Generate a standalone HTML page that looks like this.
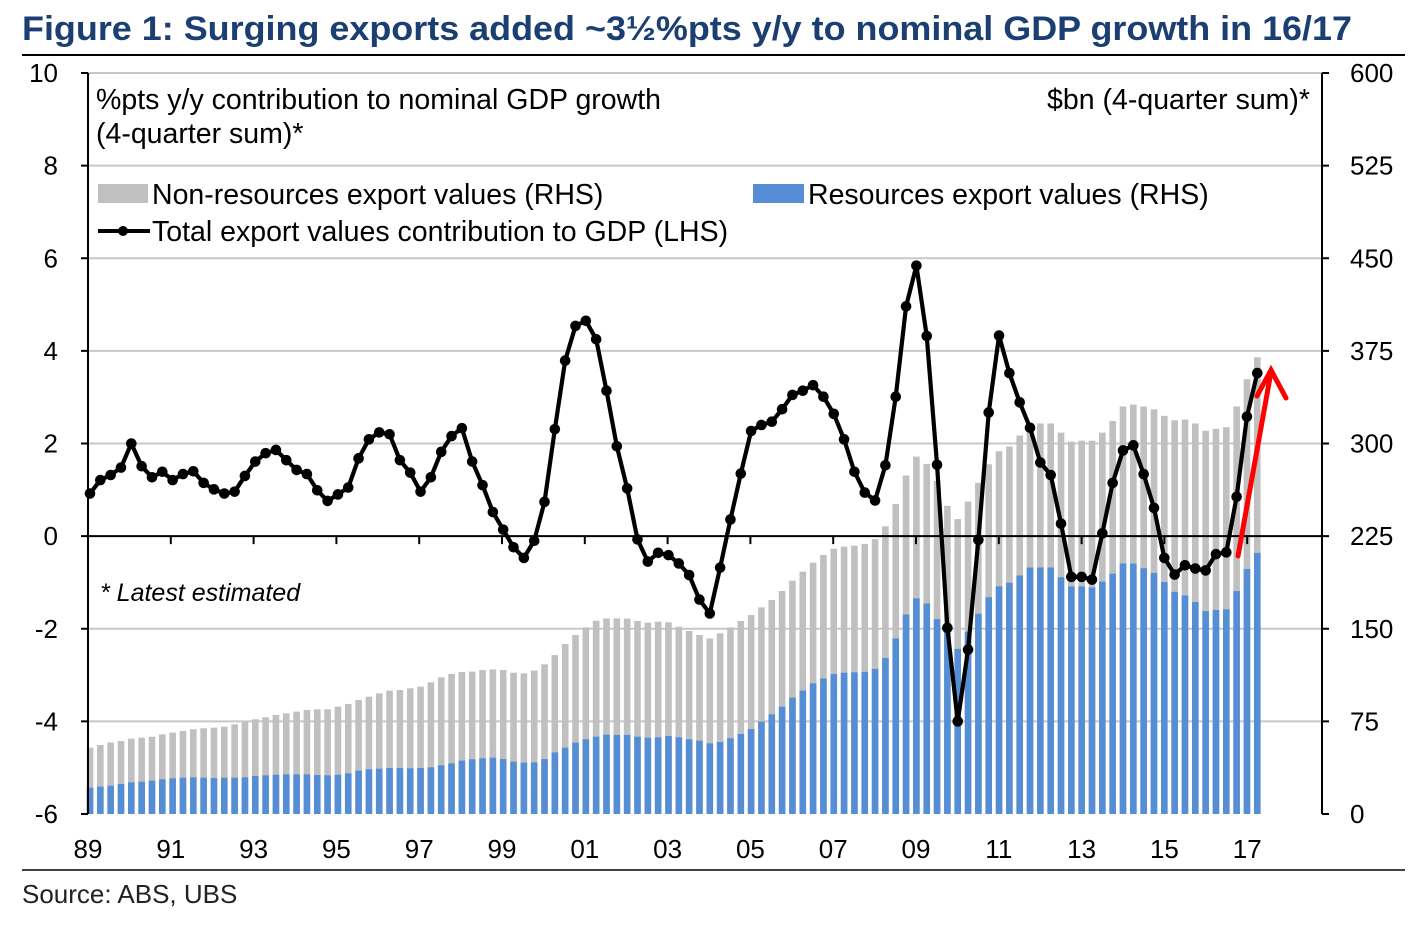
<!DOCTYPE html>
<html><head><meta charset="utf-8"><style>
body{margin:0;background:#fff;}
svg{display:block;font-family:"Liberation Sans",Arial,sans-serif;}
</style></head><body>
<svg id="chart" width="1423" height="925" viewBox="0 0 1423 925">
<text x="22" y="40" font-size="34" font-weight="bold" fill="#1b3f73" textLength="1330" lengthAdjust="spacingAndGlyphs">Figure 1: Surging exports added ~3½%pts y/y to nominal GDP growth in 16/17</text>
<line x1="22" y1="55" x2="1405" y2="55" stroke="#000" stroke-width="2"/>
<line x1="22" y1="870" x2="1405" y2="870" stroke="#000" stroke-width="1.5"/>
<text x="22" y="903" font-size="26" fill="#222">Source:  ABS, UBS</text>
<g id="grid"></g><g id="bars"></g><g id="axes"></g><g id="line"></g>
<text x="96" y="109" font-size="28.5" fill="#000">%pts y/y contribution to nominal GDP growth</text>
<text x="96" y="143" font-size="28.5" fill="#000">(4-quarter sum)*</text>
<text x="1310" y="109" font-size="28.5" fill="#000" text-anchor="end">$bn (4-quarter sum)*</text>
<g>
<rect x="98" y="184" width="50" height="19" fill="#c0c0c0"/>
<text x="152" y="204" font-size="28.5">Non-resources export values (RHS)</text>
<rect x="753" y="184" width="51" height="19" fill="#558ed5"/>
<text x="808" y="204" font-size="28.5">Resources export values (RHS)</text>
<line x1="98" y1="231" x2="150" y2="231" stroke="#000" stroke-width="4"/>
<circle cx="123" cy="231" r="5" fill="#000"/>
<text x="152" y="241" font-size="28.5">Total export values contribution to GDP (LHS)</text>
</g>
<text x="100" y="601" font-size="25" font-style="italic">* Latest estimated</text>
<g stroke="#ff0000" stroke-width="5" fill="none" stroke-linecap="round">
<line x1="1238" y1="556" x2="1271" y2="372"/>
<polyline points="1257,396 1271,370 1286,398"/>
</g>
</svg>
<script>
const totalVals=[53.7,55.9,58,59.1,61,61.8,62.6,64.5,65.9,67.2,68.6,69.4,69.9,70.7,72.6,74.8,76.7,78.3,80.2,81.5,82.9,84.2,84.8,84.8,86.9,89.1,92.3,95,97.7,99.9,100.4,101.8,103.1,106.6,110.7,113.4,115,115.3,
116.6,117.1,116.6,114.4,113.9,116.1,121.2,128.7,137.6,144.9,151.1,156.5,158.4,158.4,158.2,156.3,154.9,155.7,155.2,151.7,148.2,144.9,142.2,146.3,151.1,156.3,161.1,167.3,173.3,180.6,188.9,196.2,203.5,209.7,214.8,216.5,217.3,
218.7,222.6,232.9,251.1,274.1,289.4,283.5,269.7,249.6,238.8,252.9,268.2,283.2,293.8,297.6,306.5,315.3,316.2,316.2,308.8,301.5,302.3,302.3,308.8,318.2,330,331.5,330,327.7,322.4,318.8,319.4,316.2,310.3,311.8,313.2,330,352.1,369.8];
const resourcesVals=[21.3,22.1,22.9,24.3,25.6,26.2,27,28.1,28.9,29.4,29.7,29.4,29.1,29.4,29.4,29.7,30.8,31.3,31.8,32.1,32.1,32.1,31.6,31.3,31.8,32.9,35.1,36.2,36.7,37.2,37.2,37,37.2,37.8,39.4,41,43.2,44.3,
45.1,45.6,44.5,42.4,41.6,41.8,44.5,49.9,53.7,57.8,60.5,62.6,64.2,64,64,62.6,61.8,62.1,63.2,62.1,60.5,59.4,57.2,58.3,61.3,64.8,68.8,74.8,80.7,86.9,94.2,99.9,105.8,109.8,113.4,114.4,114.7,
115.1,117.5,126.3,142.2,161.6,174.6,170.5,157.8,147.5,133.7,147.5,162.2,175.5,184.3,187.2,193.1,199.6,199.6,199.6,191.7,184.3,184.3,183.4,188.1,194.6,202.8,202.8,199,195.2,187.8,179.9,176.9,171.6,164.3,165.2,165.7,180.5,198.4,211.4];
const contribVals=[0.92,1.21,1.32,1.48,2.0,1.51,1.27,1.39,1.21,1.34,1.40,1.15,1.01,0.92,0.96,1.30,1.61,1.79,1.86,1.64,1.43,1.34,0.99,0.76,0.90,1.05,1.68,2.09,2.24,2.20,1.64,1.37,0.96,1.27,1.82,2.16,2.33,1.61,
1.10,0.52,0.14,-0.24,-0.47,-0.10,0.74,2.31,3.79,4.54,4.65,4.25,3.14,1.94,1.03,-0.07,-0.55,-0.36,-0.41,-0.59,-0.84,-1.37,-1.67,-0.68,0.36,1.35,2.27,2.40,2.47,2.74,3.05,3.14,3.26,3.01,2.64,2.09,1.39,
0.94,0.77,1.53,3.01,4.96,5.84,4.32,1.54,-1.98,-4.0,-2.45,-0.08,2.67,4.33,3.52,2.89,2.34,1.59,1.32,0.27,-0.88,-0.88,-0.94,0.06,1.15,1.85,1.96,1.34,0.61,-0.47,-0.83,-0.63,-0.70,-0.74,-0.39,-0.35,0.85,2.58,3.52];
const lhsTicks=[10,8,6,4,2,0,-2,-4,-6];
const rhsTicks=[600,525,450,375,300,225,150,75,0];
const yearLabels=['89','91','93','95','97','99','01','03','05','07','09','11','13','15','17'];

const NS='http://www.w3.org/2000/svg';
const X0=88,X1=1322,YT=73,YB=814,Q=10.33,YR=82.8;
const yL=v=>YB-(v+6)/16*(YB-YT);
const yR=v=>YB-v/600*(YB-YT);
const xQ=i=>90+i*Q;
function mk(tag,attrs,parent){const e=document.createElementNS(NS,tag);for(const k in attrs)e.setAttribute(k,attrs[k]);document.getElementById(parent).appendChild(e);return e;}
lhsTicks.forEach((t,k)=>{
  const y=yL(t);
  if(t!==0&&t!==-6){const g=mk('line',{x1:X0,x2:X1,y1:y,y2:y,stroke:'#c8c8c8','stroke-width':2},'grid');
  
  }
  const l=mk('text',{x:58,y:y+9,'font-size':26,'text-anchor':'end'},'axes');l.textContent=t;
  
  
  const tk=mk('line',{x1:X0-7,x2:X0,y1:y,y2:y,stroke:'#000','stroke-width':2},'axes');
  
  
});
rhsTicks.forEach(t=>{
  const y=yR(t);
  const l=mk('text',{x:1350,y:y+9,'font-size':26},'axes');l.textContent=t;
  
  
  const tk=mk('line',{x1:X1,x2:X1+7,y1:y,y2:y,stroke:'#000','stroke-width':2},'axes');
  
  
});
totalVals.forEach((v,i)=>{
  const x=xQ(i)-3.3;
  const g=mk('rect',{x:x,y:yR(v),width:6.6,height:yR(0)-yR(v),fill:'#c0c0c0'},'bars');
  
  
  const r=resourcesVals[i];
  const b=mk('rect',{x:x,y:yR(r),width:6.6,height:yR(0)-yR(r),fill:'#558ed5'},'bars');
  
  
});
const ax=[['lhs-axis',X0,YT,X0,YB],['rhs-axis',X1,YT,X1,YB],['zero-line',X0,yL(0),X1,yL(0)]];
ax.forEach(a=>{const e=mk('line',{x1:a[1],y1:a[2],x2:a[3],y2:a[4],stroke:'#000','stroke-width':2},'axes');
  
  });
yearLabels.forEach((s,k)=>{
  const x=X0+k*YR;
  const t=mk('text',{x:x,y:858,'font-size':26,'text-anchor':'middle'},'axes');t.textContent=s;
  
  
  if(k>0){const tk=mk('line',{x1:x,x2:x,y1:yL(0),y2:yL(0)+8,stroke:'#000','stroke-width':2},'axes');
  
  }
});
const pts=contribVals.map((v,i)=>xQ(i)+','+yL(v)).join(' ');
const pl=mk('polyline',{points:pts,fill:'none',stroke:'#000','stroke-width':4.2,'stroke-linejoin':'round'},'line');


contribVals.forEach((v,i)=>{
  const c=mk('circle',{cx:xQ(i),cy:yL(v),r:5.3,fill:'#000'},'line');
  
  
});
</script>
</body></html>
